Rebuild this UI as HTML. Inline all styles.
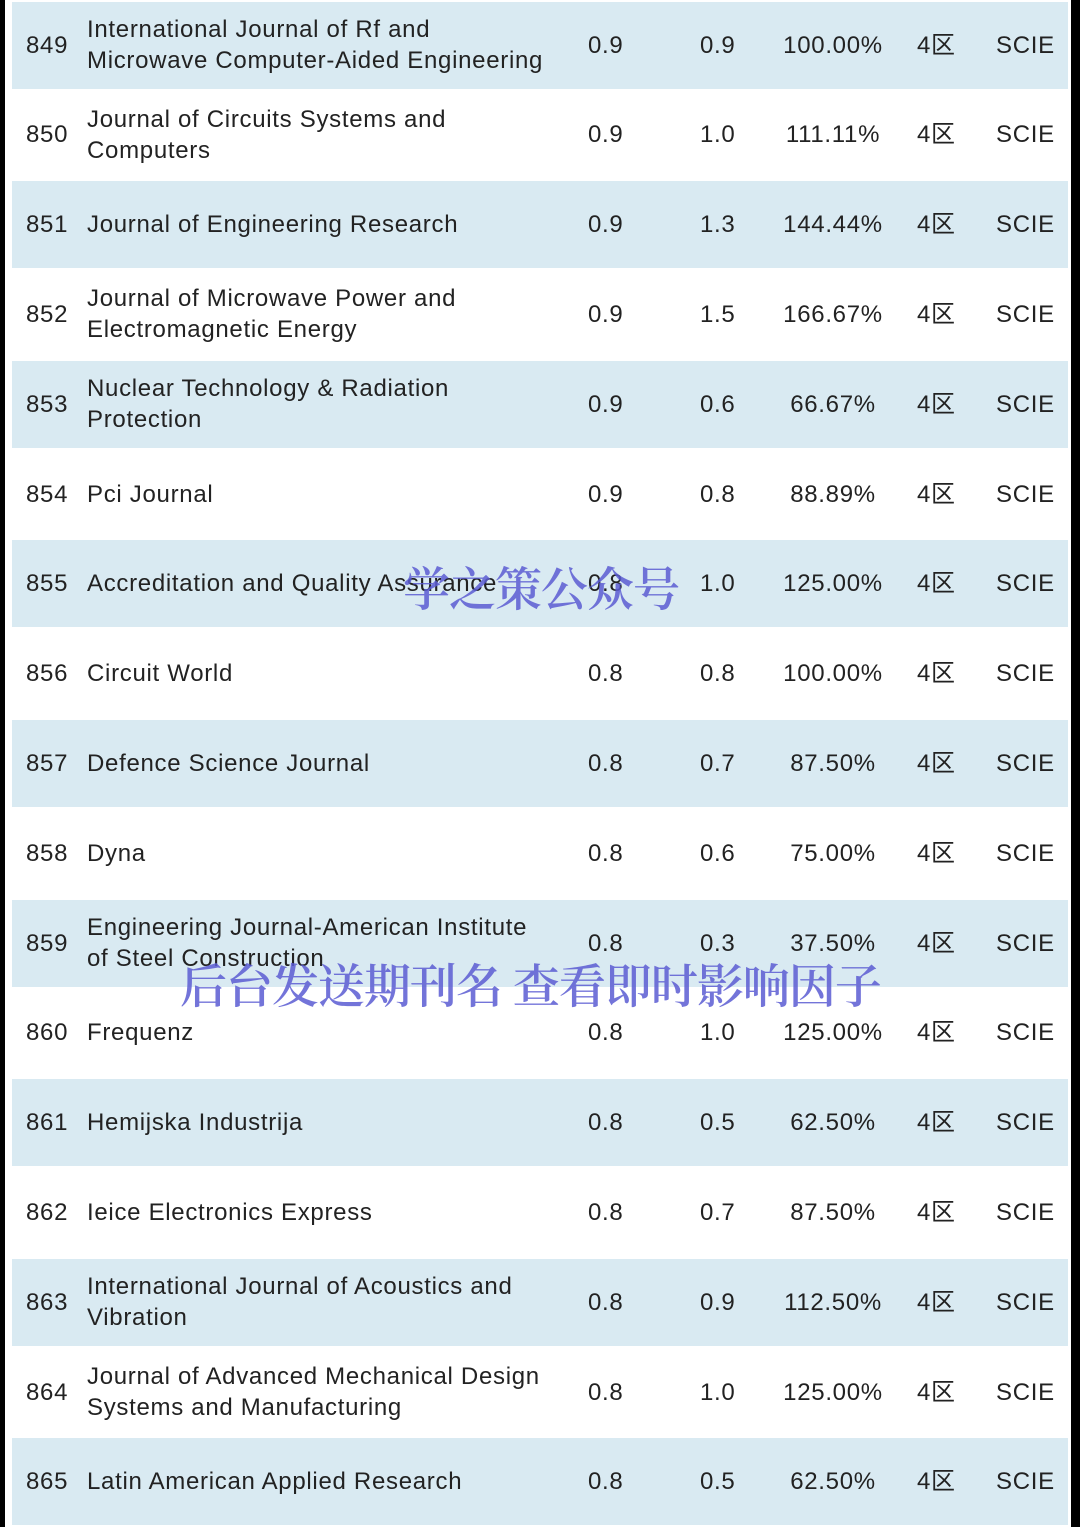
<!DOCTYPE html>
<html><head><meta charset="utf-8"><style>
body{margin:0;width:1080px;height:1527px;position:relative;background:#fff;overflow:hidden;font-family:"Liberation Sans",Arial,sans-serif;color:#222;}
.lb{position:absolute;left:0;top:0;width:5px;height:1527px;background:#000;}
.rb{position:absolute;left:1071px;top:0;width:9px;height:1527px;background:#000;}
.row{position:absolute;left:12px;width:1056px;height:87px;}
.row.b{background:#d9eaf2;}
.c{position:absolute;top:0;height:87px;display:flex;align-items:center;font-size:24px;line-height:31px;white-space:nowrap;letter-spacing:0.7px;}
.wm{position:absolute;font-family:"Noto Serif CJK SC","WenQuanYi Zen Hei",serif;color:rgba(90,92,210,0.85);font-size:47px;white-space:nowrap;font-weight:600;}
</style></head><body>
<div class="lb"></div>
<div class="rb"></div>
<div id="tbl"></div>
<div class="wm" style="left:403px;top:553px;letter-spacing:-1px;">学之策公众号</div>
<div class="wm" style="left:180px;top:950px;letter-spacing:-1px;">后台发送期刊名 查看即时影响因子</div>
<script>
const ranks=[849,850,851,852,853,854,855,856,857,858,859,860,861,862,863,864,865];
const names=["International Journal of Rf and<br>Microwave Computer-Aided Engineering","Journal of Circuits Systems and<br>Computers","Journal of Engineering Research","Journal of Microwave Power and<br>Electromagnetic Energy","Nuclear Technology &amp; Radiation<br>Protection","Pci Journal","Accreditation and Quality Assurance","Circuit World","Defence Science Journal","Dyna","Engineering Journal-American Institute<br>of Steel Construction","Frequenz","Hemijska Industrija","Ieice Electronics Express","International Journal of Acoustics and<br>Vibration","Journal of Advanced Mechanical Design<br>Systems and Manufacturing","Latin American Applied Research"];
const ifOld=["0.9","0.9","0.9","0.9","0.9","0.9","0.8","0.8","0.8","0.8","0.8","0.8","0.8","0.8","0.8","0.8","0.8"];
const ifNew=["0.9","1.0","1.3","1.5","0.6","0.8","1.0","0.8","0.7","0.6","0.3","1.0","0.5","0.7","0.9","1.0","0.5"];
const ratio=["100.00%","111.11%","144.44%","166.67%","66.67%","88.89%","125.00%","100.00%","87.50%","75.00%","37.50%","125.00%","62.50%","87.50%","112.50%","125.00%","62.50%"];
const tbl=document.getElementById('tbl');
ranks.forEach((r,i)=>{
  const row=document.createElement('div');
  row.className='row'+(i%2===0?' b':'');
  row.style.top=(i*89.8+1.5)+'px';
  
  
  const cells=[[14,r,'rank'],[75,names[i],'journal-name'],[576,ifOld[i],'if-previous'],[688,ifNew[i],'if-current'],[771,ratio[i],'growth-rate'],[905,'4区','quartile'],[984,'SCIE','index']];
  cells.forEach(c=>{
    const d=document.createElement('div');
    d.className='c';
    d.style.left=c[0]+'px';
    if(c[2]==='growth-rate'){d.style.width='100px';d.style.justifyContent='center';}
    d.innerHTML=c[1];
    
    
    row.appendChild(d);
  });
  tbl.appendChild(row);
});
</script>
</body></html>
